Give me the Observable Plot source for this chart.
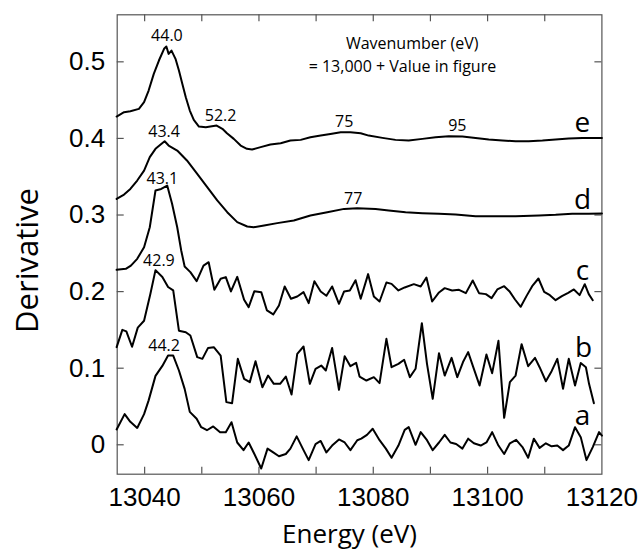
<!DOCTYPE html>
<html><head><meta charset="utf-8">
<script src="https://cdn.jsdelivr.net/npm/d3@7"></script>
<script src="https://cdn.jsdelivr.net/npm/@observablehq/plot@0.6"></script>
<style>body{margin:0;background:#fff}</style>
</head><body><div id="chart"></div>
<script>
// Energy (eV), derivative pairs
const curveA = [[13035.1,0.020],[13036.5,0.040],[13037.5,0.030],[13038.7,0.022],[13039.9,0.040],[13040.7,0.058],[13041.9,0.090],[13043.1,0.103],[13044.1,0.1165],[13045.0,0.1165],[13046.0,0.097],[13047.0,0.073],[13047.9,0.043],[13049.1,0.034],[13049.9,0.023],[13050.9,0.019],[13052.0,0.024],[13053.2,0.0165],[13054.2,0.0165],[13055.2,0.0295],[13056.2,0.003],[13057.3,-0.007],[13058.2,0.003],[13059.2,-0.012],[13060.4,-0.031],[13061.5,-0.005],[13062.5,-0.010],[13063.5,-0.015],[13064.7,-0.012],[13065.5,-0.005],[13066.6,0.011],[13067.8,-0.007],[13068.7,-0.020],[13069.9,0.001],[13070.8,0.005],[13071.8,-0.010],[13072.8,-0.001],[13074.0,0.007],[13075.0,0.003],[13076.0,-0.007],[13077.2,0.006],[13077.9,0.008],[13078.9,0.013],[13079.9,0.021],[13081.1,0.006],[13082.2,-0.005],[13083.2,-0.017],[13084.4,-0.001],[13085.5,0.0195],[13086.2,0.023],[13087.4,0.000],[13088.3,0.0165],[13089.4,0.006],[13090.4,-0.007],[13091.5,0.003],[13092.5,0.013],[13093.5,0.003],[13094.5,0.001],[13095.6,-0.005],[13096.6,0.008],[13097.6,0.002],[13098.8,-0.001],[13099.8,0.003],[13100.8,0.0165],[13101.9,-0.001],[13102.9,-0.012],[13103.9,0.002],[13105.0,0.0065],[13106.1,-0.003],[13107.1,-0.017],[13108.1,0.008],[13109.1,-0.004],[13110.2,0.002],[13111.2,-0.002],[13112.2,-0.001],[13113.2,-0.007],[13114.2,-0.001],[13115.3,0.023],[13116.3,0.010],[13117.3,-0.020],[13118.4,-0.003],[13119.5,0.0165],[13120.0,0.012]];
const curveB = [[13035.1,0.1275],[13036.1,0.150],[13036.8,0.148],[13037.8,0.128],[13038.8,0.153],[13039.9,0.162],[13041.0,0.197],[13041.9,0.228],[13043.1,0.219],[13044.1,0.206],[13045.0,0.2015],[13046.0,0.149],[13047.2,0.147],[13048.0,0.1426],[13049.2,0.1144],[13050.1,0.1122],[13051.1,0.1265],[13052.1,0.1275],[13053.3,0.1165],[13054.3,0.0557],[13055.3,0.0543],[13056.3,0.1122],[13057.4,0.0861],[13058.4,0.0818],[13059.4,0.109],[13060.6,0.0752],[13061.6,0.0904],[13062.6,0.0796],[13063.7,0.0796],[13064.7,0.0891],[13065.7,0.0656],[13066.7,0.1187],[13067.8,0.1283],[13068.9,0.0796],[13069.9,0.0992],[13070.9,0.1035],[13071.7,0.097],[13072.8,0.1265],[13074.0,0.0718],[13075.0,0.1157],[13076.0,0.1026],[13077.0,0.107],[13077.6,0.0891],[13078.8,0.0839],[13080.1,0.0883],[13081.1,0.0805],[13082.3,0.1383],[13083.2,0.1013],[13084.4,0.1057],[13085.4,0.111],[13086.4,0.0883],[13087.4,0.0992],[13088.5,0.1588],[13089.4,0.1057],[13090.4,0.060],[13091.5,0.1196],[13092.5,0.0904],[13093.7,0.1135],[13094.7,0.0883],[13095.7,0.108],[13096.6,0.121],[13097.6,0.0992],[13098.6,0.0774],[13099.8,0.1178],[13100.8,0.0935],[13101.9,0.1357],[13102.9,0.0352],[13103.9,0.0818],[13104.9,0.0904],[13105.95,0.1314],[13107.1,0.1026],[13108.3,0.1135],[13109.1,0.1013],[13110.2,0.083],[13111.2,0.0961],[13112.2,0.1122],[13113.2,0.0731],[13114.2,0.1122],[13115.3,0.0774],[13116.3,0.1067],[13117.2,0.1013],[13117.75,0.0796],[13118.6,0.0543]];
const curveC = [[13035.1,0.2284],[13036.7,0.2297],[13037.6,0.234],[13038.7,0.2428],[13039.9,0.258],[13040.9,0.284],[13041.9,0.332],[13042.9,0.334],[13043.95,0.3385],[13044.8,0.3146],[13045.7,0.284],[13046.4,0.2537],[13047.0,0.2327],[13048.0,0.2254],[13049.1,0.2136],[13050.3,0.234],[13051.2,0.2384],[13052.2,0.2023],[13053.3,0.2167],[13054.2,0.2189],[13055.1,0.2002],[13056.2,0.2193],[13057.4,0.1893],[13058.2,0.1797],[13059.2,0.2006],[13060.4,0.1993],[13061.4,0.1754],[13062.5,0.1702],[13063.5,0.1819],[13064.5,0.2067],[13065.6,0.1906],[13066.7,0.1936],[13067.8,0.1993],[13068.7,0.185],[13069.7,0.2136],[13070.8,0.2002],[13071.8,0.1945],[13072.8,0.2067],[13074.0,0.1841],[13074.9,0.2002],[13075.9,0.2015],[13076.9,0.2149],[13077.8,0.1906],[13079.1,0.2228],[13080.1,0.1936],[13081.1,0.1871],[13082.3,0.2119],[13083.2,0.2101],[13084.4,0.2015],[13085.5,0.2054],[13087.1,0.2097],[13088.3,0.2067],[13089.3,0.2184],[13090.3,0.1871],[13091.5,0.1989],[13092.5,0.2045],[13093.8,0.2015],[13095.0,0.2023],[13096.2,0.198],[13097.4,0.2145],[13098.5,0.198],[13099.7,0.1967],[13100.7,0.1915],[13101.7,0.2028],[13102.9,0.2071],[13103.9,0.1997],[13104.8,0.1897],[13105.8,0.1802],[13106.8,0.1941],[13107.8,0.2071],[13108.9,0.2171],[13109.9,0.1997],[13110.9,0.1954],[13111.9,0.1888],[13113.0,0.1941],[13114.1,0.1984],[13115.1,0.2028],[13116.1,0.1954],[13117.0,0.2097],[13117.7,0.1967],[13118.4,0.1888]];
const curveD = [[13035.1,0.321],[13036.4,0.3267],[13037.5,0.334],[13038.7,0.345],[13039.9,0.358],[13040.9,0.3755],[13041.9,0.3864],[13042.8,0.392],[13043.5,0.3963],[13044.2,0.3907],[13045.7,0.3842],[13047.4,0.3712],[13049.2,0.3538],[13050.95,0.3364],[13052.7,0.319],[13054.45,0.3037],[13056.2,0.2907],[13057.95,0.285],[13059.1,0.2841],[13060.9,0.2863],[13063.2,0.2894],[13066.1,0.2928],[13069.0,0.2994],[13071.95,0.3037],[13074.9,0.308],[13077.2,0.3089],[13080.4,0.308],[13082.7,0.306],[13085.65,0.3037],[13088.6,0.3024],[13091.5,0.3015],[13094.4,0.3007],[13097.9,0.2985],[13101.4,0.2985],[13104.9,0.2985],[13109.0,0.2994],[13111.9,0.3002],[13114.8,0.3015],[13117.7,0.3015],[13120.0,0.302]];
const curveE = [[13035.1,0.4286],[13036.4,0.4342],[13037.5,0.4355],[13039.0,0.4386],[13039.9,0.4473],[13040.7,0.4625],[13041.6,0.4843],[13042.5,0.5017],[13043.4,0.517],[13043.8,0.520],[13044.2,0.5104],[13044.7,0.5147],[13045.4,0.5039],[13046.0,0.4886],[13046.6,0.4712],[13047.2,0.4538],[13047.9,0.4364],[13048.6,0.4242],[13049.5,0.4155],[13050.7,0.4146],[13051.5,0.4155],[13052.6,0.4168],[13053.6,0.4125],[13054.4,0.4068],[13055.6,0.3994],[13056.8,0.3907],[13057.9,0.3864],[13058.8,0.3855],[13060.3,0.3886],[13062.0,0.392],[13063.8,0.3937],[13065.5,0.3972],[13067.3,0.3981],[13069.0,0.4016],[13070.8,0.4037],[13072.5,0.4059],[13074.3,0.408],[13076.0,0.408],[13077.8,0.4068],[13079.2,0.4037],[13081.6,0.4007],[13083.9,0.3981],[13086.2,0.3972],[13088.6,0.3994],[13090.9,0.4016],[13093.2,0.4029],[13095.6,0.4024],[13097.9,0.4007],[13100.2,0.3985],[13102.6,0.3972],[13104.9,0.3963],[13107.2,0.3963],[13109.6,0.3972],[13111.9,0.3985],[13114.2,0.3998],[13116.6,0.4007],[13120.0,0.4007]];

const curveNames = ["a", "b", "c", "d", "e"];
const curveLabelX = [13116.6, 13116.8, 13116.6, 13116.6, 13116.6];
const curveLabelY = [0.037, 0.126, 0.2263, 0.3198, 0.4199];

const peakText = ["44.0", "52.2", "75", "95", "43.4", "77", "43.1", "42.9", "44.2"];
const peakX = [13043.9, 13053.3, 13074.9, 13094.7, 13043.4, 13076.5, 13043.1, 13042.5, 13043.4];
const peakY = [0.5345, 0.429, 0.4222, 0.417, 0.408, 0.3213, 0.3474, 0.2407, 0.1289];

const noteLines = ["Wavenumber (eV)", "= 13,000 + Value in figure"];
const noteX = [13086.8, 13085.1];
const noteY = [0.5236, 0.4931];

const xTickLabels = [13040, 13060, 13080, 13100, 13120];
const xTickMarks = [13040, 13050, 13060, 13070, 13080, 13090, 13100, 13110];
const yTicks = [0, 0.1, 0.2, 0.3, 0.4, 0.5];
const xDomain = [13035.2, 13120];
const yDomain = [-0.0384, 0.5614];
const xTitle = "Energy (eV)";
const yTitle = "Derivative";

const curves = [curveA, curveB, curveC, curveD, curveE];
const series = curves.flatMap((c, i) => c.map(([x, y]) => ({curve: curveNames[i], x, y})));
const curveLabels = curveNames.map((t, i) => ({t, x: curveLabelX[i], y: curveLabelY[i]}));
const peaks = peakText.map((t, i) => ({t, x: peakX[i], y: peakY[i]}));
const notes = noteLines.map((t, i) => ({t, x: noteX[i], y: noteY[i]}));

const W = 642, H = 552;
const mL = 116.7, mR = 40.6, mT = 14.3, mB = 78.3;
const tickLen = 7;
const innerW = W - mL - mR, innerH = H - mT - mB;
const gray = "#555";
const sans = "'Open Sans', sans-serif";
const chart = Plot.plot({
  width: W,
  height: H,
  marginLeft: mL,
  marginRight: mR,
  marginTop: mT,
  marginBottom: mB,
  style: {fontFamily: "'Liberation Sans', Arial, sans-serif", background: "#fff", color: "#000"},
  x: {domain: xDomain},
  y: {domain: yDomain},
  marks: [
    // inward tick marks (full-frame ticks shortened with insets)
    Plot.tickX(xTickMarks, {x: d => d, insetTop: innerH - tickLen, stroke: gray, strokeWidth: 1.2}),
    Plot.tickX(xTickMarks, {x: d => d, insetBottom: innerH - tickLen, stroke: gray, strokeWidth: 1.2}),
    Plot.tickY(yTicks, {y: d => d, insetRight: innerW - tickLen, stroke: gray, strokeWidth: 1.2}),
    Plot.tickY(yTicks, {y: d => d, insetLeft: innerW - tickLen, stroke: gray, strokeWidth: 1.2}),
    Plot.axisX(xTickLabels, {anchor: "bottom", tickSize: 0, tickPadding: 13, fontSize: 26, tickFormat: d => String(d), label: null}),
    Plot.axisY(yTicks, {anchor: "left", tickSize: 0, tickPadding: 12, fontSize: 26, tickFormat: d => d === 0 ? "0" : d3.format(".1f")(d), label: null}),
    Plot.frame({stroke: gray, strokeWidth: 1.2}),
    Plot.line(series, {x: "x", y: "y", z: "curve", stroke: "#000", strokeWidth: 2, strokeLinejoin: "round"}),
    Plot.text(peaks, {x: "x", y: "y", text: "t", fontSize: 16, fontFamily: sans}),
    Plot.text(notes, {x: "x", y: "y", text: "t", fontSize: 16, fontFamily: sans}),
    Plot.text(curveLabels, {x: "x", y: "y", text: "t", fontSize: 28, fontFamily: sans}),
    Plot.text([xTitle], {frameAnchor: "bottom", textAnchor: "middle", lineAnchor: "middle", dx: -10, dy: 60, fontSize: 26, fontFamily: sans}),
    Plot.text([yTitle], {frameAnchor: "left", textAnchor: "middle", lineAnchor: "middle", rotate: -90, dx: -88.7, dy: 16, fontSize: 31, fontFamily: sans})
  ]
});
document.getElementById("chart").appendChild(chart);
</script>
</body></html>
